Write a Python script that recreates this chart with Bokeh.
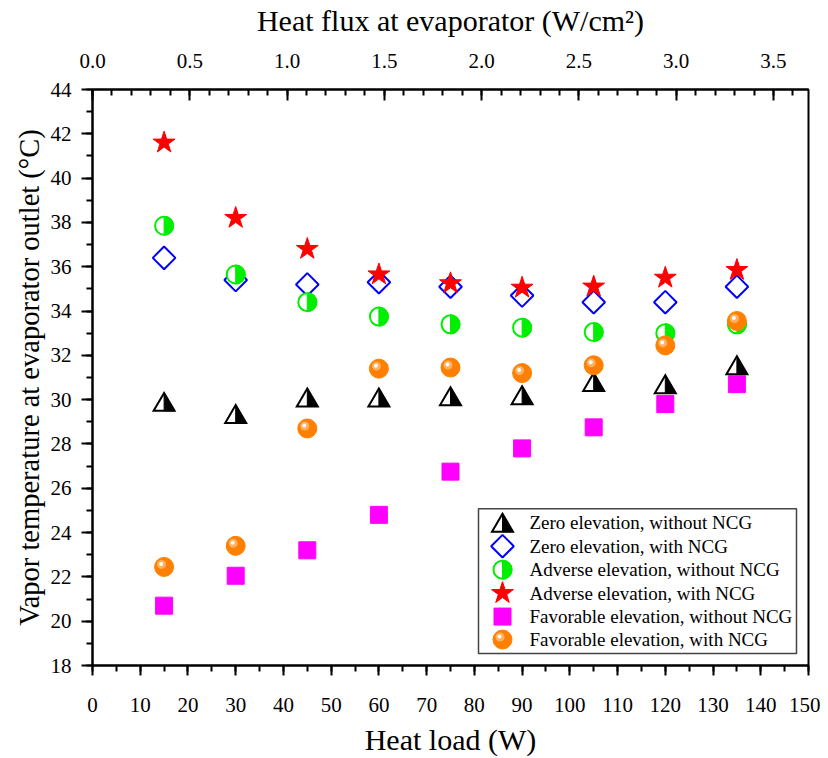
import math
from bokeh.plotting import figure
from bokeh.models import Range1d, LinearAxis, SingleIntervalTicker, PrintfTickFormatter
from bokeh.core.properties import value
from bokeh.embed import file_html
from bokeh.resources import INLINE

# ---------------- data ----------------
heat_load = [15, 30, 45, 60, 75, 90, 105, 120, 135]
zero_without_ncg = [29.9, 29.35, 30.1, 30.1, 30.15, 30.2, 30.8, 30.7, 31.55]
zero_with_ncg = [36.4, 35.4, 35.2, 35.3, 35.1, 34.7, 34.4, 34.4, 35.1]
adverse_without_ncg = [37.85, 35.65, 34.4, 33.75, 33.4, 33.25, 33.05, 33.0, 33.4]
adverse_with_ncg = [41.6, 38.2, 36.8, 35.65, 35.25, 35.05, 35.1, 35.5, 35.85]
favorable_without_ncg = [20.7, 22.05, 23.2, 24.8, 26.75, 27.8, 28.75, 29.8, 30.7]
favorable_with_ncg = [22.45, 23.4, 28.7, 31.4, 31.45, 31.2, 31.55, 32.45, 33.55]
legend_labels = ["Zero elevation, without NCG", "Zero elevation, with NCG",
                 "Adverse elevation, without NCG", "Adverse elevation, with NCG",
                 "Favorable elevation, without NCG", "Favorable elevation, with NCG"]

X0, X1 = 0, 150
Y0, Y1 = 18, 44
FLUX_MAX = 3.68
FRAME_W, FRAME_H = 716, 577
PXX = FRAME_W / (X1 - X0)
PXY = FRAME_H / (Y1 - Y0)
SERIF = "Liberation Serif"

p = figure(width=820, height=758, x_range=Range1d(X0, X1), y_range=Range1d(Y0, Y1),
           output_backend="svg", toolbar_location=None,
           min_border_left=92, min_border_right=12, min_border_top=89, min_border_bottom=92)
p.grid.visible = False
p.outline_line_color = "black"
p.outline_line_width = 2
p.background_fill_color = "white"
p.border_fill_color = "white"

def style_axis(ax, tick_in, tick_out, minor_in, minor_out, label_size, title_size, standoff, title_standoff):
    ax.axis_line_width = 2
    ax.axis_line_color = "black"
    ax.major_tick_line_width = 2
    ax.minor_tick_line_width = 2
    ax.major_tick_in = tick_in
    ax.major_tick_out = tick_out
    ax.minor_tick_in = minor_in
    ax.minor_tick_out = minor_out
    ax.major_label_text_font = SERIF
    ax.major_label_text_font_size = label_size
    ax.major_label_text_color = "black"
    ax.major_label_standoff = standoff
    ax.axis_label_text_font = SERIF
    ax.axis_label_text_font_size = title_size
    ax.axis_label_text_font_style = "normal"
    ax.axis_label_text_color = "black"
    ax.axis_label_standoff = title_standoff

xa = p.xaxis[0]
xa.ticker = SingleIntervalTicker(interval=10, num_minor_ticks=2)
xa.axis_label = "Heat load (W)"
style_axis(xa, 0, 10, 0, 6, "21px", "30px", 22, 8)

ya = p.yaxis[0]
ya.ticker = SingleIntervalTicker(interval=2, num_minor_ticks=2)
ya.axis_label = "Vapor temperature at evaporator outlet (°C)"
style_axis(ya, 0, 11, 0, 6, "21px", "28.5px", 10, 3)

p.extra_x_ranges = {"flux": Range1d(0, FLUX_MAX)}
top = LinearAxis(x_range_name="flux", ticker=SingleIntervalTicker(interval=0.5, num_minor_ticks=5),
                 formatter=PrintfTickFormatter(format="%.1f"),
                 axis_label="Heat flux at evaporator (W/cm²)")
style_axis(top, 11, 0, 6, 0, "21px", "30px", 22, 14)
p.add_layout(top, "above")

# ---------------- marker helpers ----------------
def half_triangle(xs, ys):
    w = 21 / PXX
    h = 18 / PXY
    fx = [[x - w / 2, x, x + w / 2] for x in xs]
    fy = [[y - h / 2, y + h / 2, y - h / 2] for y in ys]
    rx = [[x, x, x + w / 2] for x in xs]
    ry = [[y - h / 2, y + h / 2, y - h / 2] for y in ys]
    p.patches(fx, fy, fill_color="white", line_color="black", line_width=2, line_join="miter")
    p.patches(rx, ry, fill_color="black", line_color="black", line_width=1, line_join="miter")

def open_diamond(xs, ys):
    p.scatter(xs, ys, marker="square", size=16, angle=45, angle_units="deg",
              fill_color=None, line_color="#0000FF", line_width=2)

def half_circle(xs, ys):
    p.scatter(xs, ys, marker="circle", size=18, fill_color="white", line_color="#00EE00", line_width=2)
    p.wedge(xs, ys, radius=9.5, radius_units="screen", start_angle=-math.pi / 2, end_angle=math.pi / 2,
            fill_color="#00EE00", line_color="#00EE00", line_width=1)

def star(xs, ys):
    p.scatter(xs, ys, marker="star", size=23, fill_color="#FF0000", line_color="#FF0000", line_width=1)

def square(xs, ys):
    p.scatter(xs, ys, marker="square", size=17, fill_color="#FF00FF", line_color="#FF00FF", line_width=1)

def sphere(xs, ys):
    p.scatter(xs, ys, marker="circle", size=19, fill_color="#FF8000", line_color="#FF8000", line_width=1)
    hx = [x - 2.5 / PXX for x in xs]
    hy = [y + 2.5 / PXY for y in ys]
    p.scatter(hx, hy, marker="circle", size=9, fill_color="#FFB060", line_color=None)
    hx2 = [x - 3 / PXX for x in xs]
    hy2 = [y + 3 / PXY for y in ys]
    p.scatter(hx2, hy2, marker="circle", size=4, fill_color="white", line_color=None)

drawers = [half_triangle, open_diamond, half_circle, star, square, sphere]
series = [zero_without_ncg, zero_with_ncg, adverse_without_ncg, adverse_with_ncg,
          favorable_without_ncg, favorable_with_ncg]

for draw, ys in zip(drawers, series):
    draw(heat_load, ys)

# ---------------- manual legend ----------------
def px_to_x(px):
    return X0 + (px - 92) / PXX

def px_to_y(py):
    return Y1 - (py - 89) / PXY

p.quad(left=[px_to_x(478)], right=[px_to_x(796)], top=[px_to_y(509)], bottom=[px_to_y(654)],
       fill_color="white", line_color="#444444", line_width=1.5)
row_px = [523, 546.5, 570, 593.5, 617, 640]
mx = px_to_x(502)
tx = px_to_x(529)
for draw, rp in zip(drawers, row_px):
    draw([mx], [px_to_y(rp)])
p.text(x=[tx] * len(legend_labels), y=[px_to_y(r) for r in row_px], text=legend_labels,
       text_font=value(SERIF), text_font_size="19px", text_baseline="middle", text_align="left",
       text_color="black")

open("out.html", "w").write(file_html(p, INLINE))
